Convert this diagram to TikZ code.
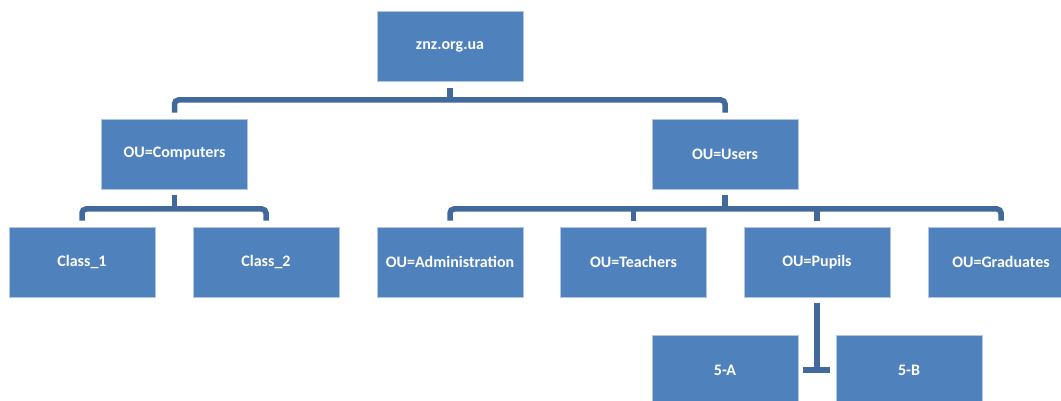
\documentclass[tikz,border=0pt]{standalone}
\usepackage{fontspec}
\setmainfont{Carlito}
\usetikzlibrary{calc}
\definecolor{boxblue}{HTML}{4F81BD}
\definecolor{linkblue}{HTML}{41699C}

\begin{document}
\begin{tikzpicture}[x=1pt,y=-1pt,
	ou/.style={rectangle,fill=boxblue,draw=boxblue!45,line width=.6pt,minimum width=146pt,minimum height=70pt,inner sep=0pt,text=white,font=\bfseries\fontsize{16}{18}\selectfont},
	conn/.style={draw=linkblue,line width=5.5pt,rounded corners=4pt}]
		\useasboundingbox (0,0) rectangle (1061,401);
		% Domain
		\node[ou] (root) at (450,46.5) {znz.org.ua};
		% OUs
		\node[ou] (comp) at (174.5,154) {OU=Computers};
		\node[ou] (users) at (725,154) {OU=Users};
		% Computers
		\node[ou] (class1) at (82,262) {Class\_1};
		\node[ou] (class2) at (266,262) {Class\_2};
		% Users
		\node[ou] (admin) at (450,262) {OU=Administration};
		\node[ou] (teach) at (633.5,262) {OU=Teachers};
		\node[ou] (pupils) at (817,262) {OU=Pupils};
		\node[ou] (grad) at (1001,262) {OU=Graduates};
		% Pupils
		\node[ou] (a5) at (725,370) {5-A};
		\node[ou] (b5) at (909,370) {5-B};
		
		% bar levels
		\coordinate (bar1) at (0,100);
		\coordinate (bar2) at (0,209);
		
		% connectors: bars with rounded ends, then the stubs
		\draw[conn] ([yshift=6pt]comp.north) -- (comp.north |- bar1) -- (users.north |- bar1) -- ([yshift=6pt]users.north);
		\draw[conn] ([yshift=6pt]class1.north) -- (class1.north |- bar2) -- (class2.north |- bar2) -- ([yshift=6pt]class2.north);
		\draw[conn] ([yshift=6pt]admin.north) -- (admin.north |- bar2) -- (grad.north |- bar2) -- ([yshift=6pt]grad.north);
		\draw[conn] ([yshift=-6pt]root.south) -- (root.south |- bar1);
		\foreach \p in {comp,users}{
			\draw[conn] ([yshift=-6pt]\p.south) -- (\p.south |- bar2);
		}
		\foreach \ch in {teach,pupils}{
			\draw[conn] ([yshift=6pt]\ch.north) -- (\ch.north |- bar2);
		}
		\draw[conn] ([yshift=-6pt]pupils.south) -- (pupils.south |- a5.east);
		\draw[conn] ([xshift=5pt]a5.east) -- ([xshift=-6pt]b5.west);
	\end{tikzpicture}
\end{document}
